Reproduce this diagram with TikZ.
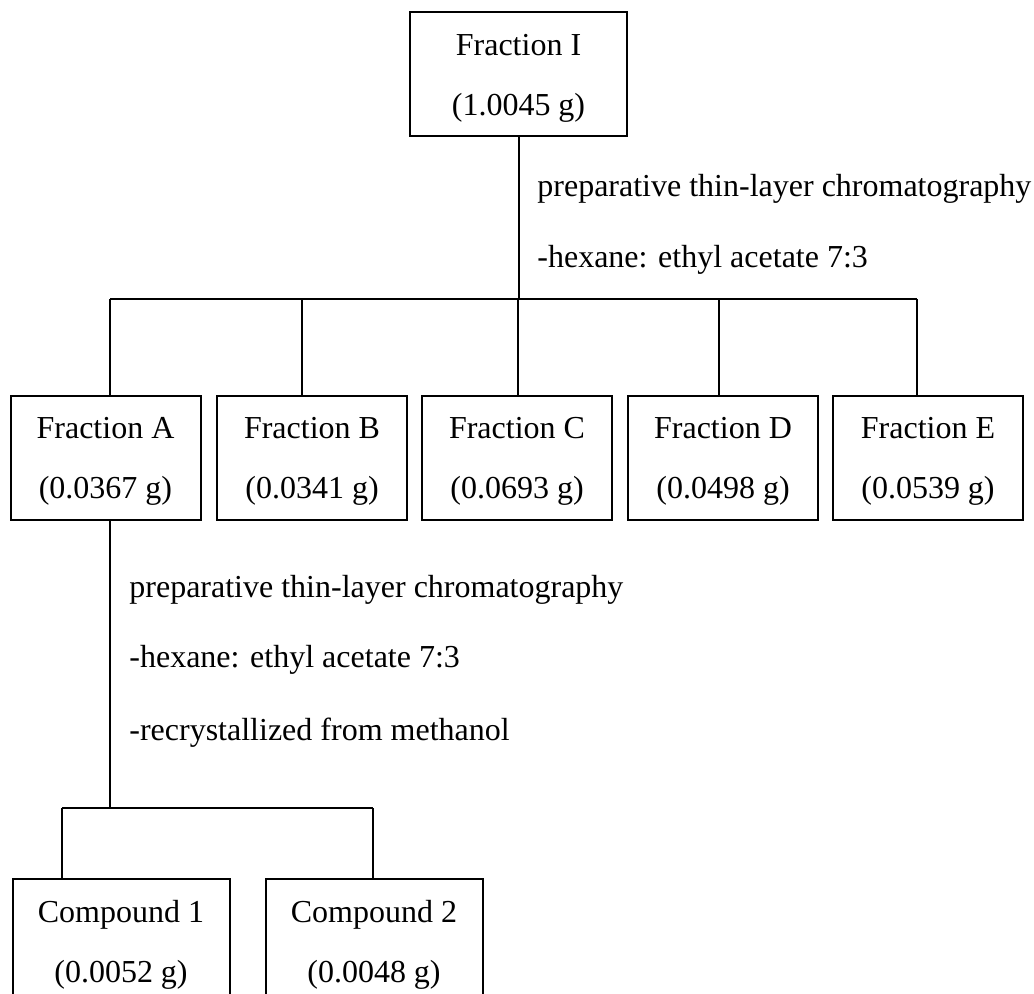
\documentclass[tikz,border=0pt]{standalone}
\usepackage{fontspec}
\setmainfont{Liberation Serif}
\usetikzlibrary{calc}
\tikzset{
  frac/box/.style={
    draw=black,
    line width=1pt,
    fill=white,
    align=center,
    minimum width=95pt,
    minimum height=62pt,
    inner sep=0pt,
    text depth=0pt,
    font=\fontsize{16}{30}\selectfont
  },
  frac/wide/.style={frac/box, minimum width=108.5pt},
  frac/note/.style={anchor=base west, inner sep=0pt, font=\fontsize{16}{18}\selectfont},
  frac/link/.style={line width=1pt, draw=black}
}

\begin{document}
\begin{tikzpicture}[x=0.5pt,y=-0.5pt]
  \path[use as bounding box, clip] (0,0) rectangle (1034,994);

  % top fraction
  \node[frac/wide] (fI) at (518.5,74.5) {Fraction I\\(1.0045 g)};
  \node[frac/note] (n1a) at (537,197) {preparative thin-layer chromatography};
  \node[frac/note] (n1b) at (537,268) {-hexane: ethyl acetate 7:3};

  % fractions A--E
  \node[frac/box] (fA) at (105.5,458) {Fraction A\\(0.0367 g)};
  \node[frac/box] (fB) at (312,458) {Fraction B\\(0.0341 g)};
  \node[frac/box] (fC) at (517,458) {Fraction C\\(0.0693 g)};
  \node[frac/box] (fD) at (723,458) {Fraction D\\(0.0498 g)};
  \node[frac/box] (fE) at (928,458) {Fraction E\\(0.0539 g)};

  \node[frac/note] (n2a) at (129,597) {preparative thin-layer chromatography};
  \node[frac/note] (n2b) at (129,668) {-hexane: ethyl acetate 7:3};
  \node[frac/note] (n2c) at (129,740) {-recrystallized from methanol};

  % compounds
  \node[frac/wide] (c1) at (121,941) {Compound 1\\(0.0052 g)};
  \node[frac/wide] (c2) at (374,941) {Compound 2\\(0.0048 g)};

  % connectors
  \coordinate (bus) at (0,299);
  \coordinate (dA) at (110,299);
  \coordinate (dB) at (302,299);
  \coordinate (dC) at (518,299);
  \coordinate (dD) at (719,299);
  \coordinate (dE) at (917,299);
  \draw[frac/link] (fI.south) -- (fI.south |- bus);
  \draw[frac/link] (dA) -- (dE);
  \foreach \d/\f in {dA/fA,dB/fB,dC/fC,dD/fD,dE/fE}
    \draw[frac/link] (\d) -- (\d |- \f.north);

  \coordinate (d1) at (62,808);
  \coordinate (d2) at (373,808);
  \draw[frac/link] (dA |- fA.south) -- (dA |- d1);
  \draw[frac/link] (d1) -- (d2);
  \draw[frac/link] (d1) -- (d1 |- c1.north);
  \draw[frac/link] (d2) -- (d2 |- c2.north);
\end{tikzpicture}
\end{document}
